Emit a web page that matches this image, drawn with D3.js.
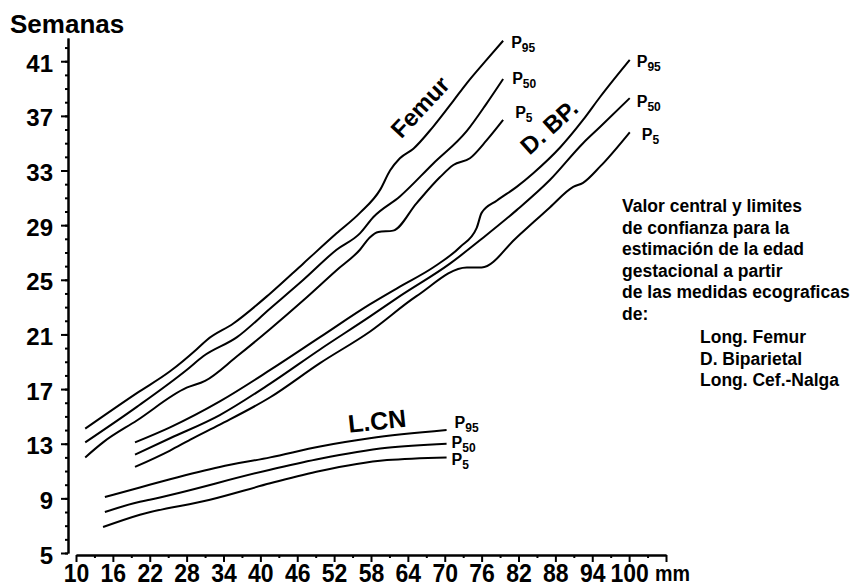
<!DOCTYPE html>
<html>
<head>
<meta charset="utf-8">
<script src="https://cdn.jsdelivr.net/npm/d3@7"></script>
<style>
  body { margin: 0; background: #fff; }
  text { font-family: "Liberation Sans", Arial, sans-serif; font-weight: bold; fill: #000; }
</style>
</head>
<body>
<div class="plot1"></div>
<script>
// gestational age (weeks) vs. ultrasound measures (mm)

// step 1: data as [mm, weeks]
var femurP95 = [[11.5,14.1],[19.9,16.7],[25.3,18.3],[29.6,19.9],[31.3,20.6],[35.6,21.8],[41.6,24.0],[47.0,26.2],[52.4,28.4],[56.2,29.9],[59.5,31.6],[61.1,33.0],[62.7,33.9],[64.9,34.6],[68.1,36.2],[71.4,38.1],[73.6,39.4],[76.8,41.1],[79.5,42.5]];
var femurP50 = [[11.5,13.1],[19.9,15.7],[28.0,18.4],[30.7,19.4],[36.2,20.8],[41.6,22.9],[47.0,25.0],[52.4,27.2],[56.2,28.4],[58.4,29.6],[62.7,31.1],[68.1,33.5],[73.6,35.9],[76.8,37.9],[79.5,39.7]];
var femurP5 = [[11.5,12.0],[14.4,13.1],[19.9,14.7],[28.0,17.1],[31.0,17.6],[36.2,19.4],[41.6,21.4],[47.0,23.5],[52.4,25.7],[56.2,27.2],[57.8,28.1],[59.2,28.5],[61.6,28.6],[65.4,30.6],[69.2,32.5],[71.4,33.4],[74.1,33.9],[76.8,35.2],[79.5,36.7]];

var dbpP95 = [[19.6,13.1],[25.3,14.2],[33.4,16.1],[41.6,18.4],[49.7,20.8],[57.8,23.2],[62.7,24.5],[68.1,25.9],[72.5,27.4],[75.2,28.8],[76.0,29.9],[78.5,30.8],[81.7,31.8],[84.4,32.8],[88.8,34.7],[92.5,36.7],[95.3,38.4],[100.1,41.1]];
var dbpP50 = [[19.6,12.2],[25.3,13.4],[33.4,15.1],[41.6,17.4],[49.7,19.9],[57.8,22.3],[62.7,23.8],[70.9,26.2],[76.3,28.1],[81.7,30.1],[87.1,32.3],[92.5,35.0],[95.3,36.2],[100.1,38.3]];
var dbpP5 = [[19.6,11.3],[25.3,12.5],[28.6,13.3],[33.4,14.4],[41.6,16.4],[49.7,18.9],[57.8,21.2],[65.4,23.8],[73.6,25.9],[76.0,25.9],[81.7,28.1],[87.1,30.3],[90.9,31.8],[92.5,32.1],[95.3,33.3],[100.1,35.8]];

var lcnP95 = [[14.7,9.1],[20.4,9.8],[25.3,10.4],[33.4,11.3],[41.6,12.0],[49.7,12.8],[57.8,13.4],[70.3,14.0]];
var lcnP50 = [[14.7,8.0],[20.4,8.75],[22.0,8.9],[41.6,11.1],[49.7,11.9],[60.6,12.7],[70.3,13.0]];
var lcnP5 = [[14.4,6.9],[20.4,7.8],[31.8,8.9],[41.6,10.1],[49.7,11.0],[60.6,11.8],[70.3,12.0]];

var yTicks = [5, 9, 13, 17, 21, 25, 29, 33, 37, 41];
var xTicks = [10, 16, 22, 28, 34, 40, 46, 52, 58, 64, 70, 76, 82, 88, 94, 100, 106];
var percentiles = ["95", "50", "5"];
var groupNames = ["Femur", "D. BP.", "L.CN"];
var noteLines = ["Valor central y limites", "de confianza para la", "estimación de la edad", "gestacional a partir", "de las medidas ecograficas", "de:"];
var noteItems = ["Long. Femur", "D. Biparietal", "Long. Cef.-Nalga"];

// step 2: svg
var svgWidth = 853;
var svgHeight = 587;

var svg = d3.select(".plot1")
.append("svg")
.attr("width", svgWidth)
.attr("height", svgHeight);

// step 3: scales
var xScale = d3.scaleLinear().domain([10, 106]).range([76, 666]);
var yScale = d3.scaleLinear().domain([5, 42.7]).range([553, 38]);

// step 4: axes
var leftMinor = d3.axisLeft(yScale).tickValues(d3.range(5, 43)).tickSize(3).tickSizeOuter(0).tickFormat("");
var leftAxis = d3.axisLeft(yScale).tickValues(yTicks).tickSize(7).tickSizeOuter(0).tickPadding(8);

var yg = svg.append("g").attr("transform", "translate(68,0)");
yg.append("g").call(leftMinor);
yg.append("g").call(leftAxis);

var bottomMinor = d3.axisBottom(xScale).tickValues(d3.range(13, 106, 6)).tickSize(3).tickSizeOuter(0).tickFormat("");
var bottomAxis = d3.axisBottom(xScale).tickValues(xTicks).tickSize(7).tickSizeOuter(0).tickPadding(2)
  .tickFormat(d => d === 106 ? "" : d);

var xg = svg.append("g").attr("transform", "translate(0,555)");
xg.append("g").call(bottomMinor);
xg.append("g").call(bottomAxis);

svg.selectAll(".domain, .tick line").attr("stroke", "#000").attr("stroke-width", 2);
svg.selectAll(".tick text").style("font-size", "24px").style("font-weight", "bold").attr("fill", "#000");
yg.selectAll(".tick text").attr("dy", "0.42em");
// x labels are a bit narrower in the original
xg.selectAll(".tick text").style("font-size", "25px").attr("transform", "scale(0.92,1)");

svg.append("text")
.attr("x", 655)
.attr("y", 581)
.style("font-size", "22px")
.attr("textLength", 35)
.attr("lengthAdjust", "spacingAndGlyphs")
.text("mm");

svg.append("text")
.attr("x", 10)
.attr("y", 33)
.style("font-size", "26px")
.text("Semanas");

// step 5: curves
var line = d3.line()
.x(d => xScale(d[0]))
.y(d => yScale(d[1]))
.curve(d3.curveMonotoneX);

var groups = [[femurP95, femurP50, femurP5], [dbpP95, dbpP50, dbpP5], [lcnP95, lcnP50, lcnP5]];

// label offsets from the end of each curve
var labelOffsets = [
  [[8, 7], [9, 5], [12, -2]],
  [[7, 7], [7, 9], [12, 8]],
  [[8, -2], [5, 4], [5, 8]]
];

groups.forEach(function(g, gi) {
  g.forEach(function(series, si) {
    svg.append("path")
    .datum(series)
    .attr("fill", "none")
    .attr("stroke", "#000")
    .attr("stroke-width", 2)
    .attr("d", line);

    var last = series[series.length - 1];
    var t = svg.append("text")
    .attr("x", xScale(last[0]) + labelOffsets[gi][si][0])
    .attr("y", yScale(last[1]) + labelOffsets[gi][si][1])
    .style("font-size", "16px");
    t.append("tspan").text("P");
    t.append("tspan").attr("dy", 4).style("font-size", "12px").text(percentiles[si]);
  });
});

// step 6: curve names
var namePos = [[420, 107, -47], [549, 127, -42], [377, 421, -6]];
svg.selectAll(".groupName")
.data(groupNames)
.enter()
.append("text")
.attr("class", "groupName")
.attr("text-anchor", "middle")
.attr("dy", "0.35em")
.attr("transform", (d, i) => `translate(${namePos[i][0]},${namePos[i][1]}) rotate(${namePos[i][2]})`)
.style("font-size", (d, i) => i === 2 ? "25px" : "24px")
.text(d => d);

// step 7: note on the right
svg.selectAll(".note")
.data(noteLines)
.enter()
.append("text")
.attr("class", "note")
.attr("x", 622)
.attr("y", (d, i) => 212 + i * 21.6)
.style("font-size", "17.5px")
.text(d => d);

svg.selectAll(".noteItem")
.data(noteItems)
.enter()
.append("text")
.attr("class", "noteItem")
.attr("x", 700)
.attr("y", (d, i) => 343 + i * 21.6)
.style("font-size", "17.5px")
.text(d => d);
</script>
</body>
</html>
